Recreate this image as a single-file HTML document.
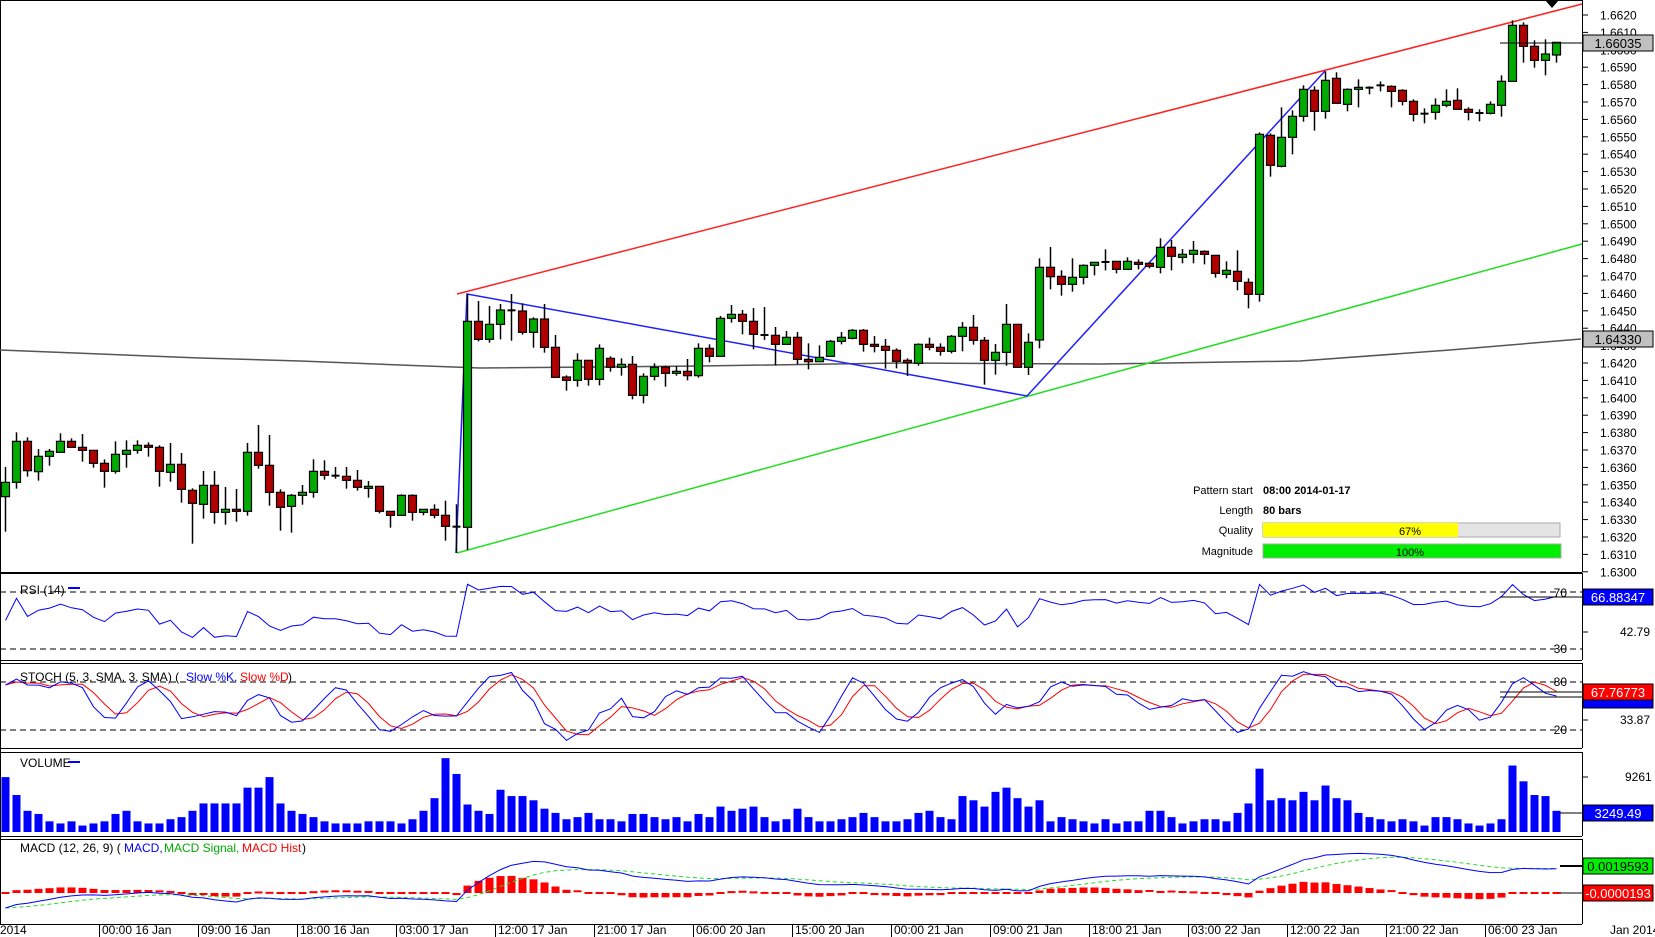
<!DOCTYPE html>
<html><head><meta charset="utf-8">
<style>
html,body{margin:0;padding:0;background:#fff;}
svg{display:block;font-family:"Liberation Sans",sans-serif;}
</style></head>
<body>
<svg id="s" width="1655" height="937" xmlns="http://www.w3.org/2000/svg">
<rect width="1655" height="937" fill="#fff"/>
</svg>
<script>
const NS="http://www.w3.org/2000/svg";
const S=document.getElementById('s');
function el(t,a,txt){const e=document.createElementNS(NS,t);for(const k in a)e.setAttribute(k,a[k]);if(txt!==undefined)e.textContent=txt;S.appendChild(e);return e;}
function line(x1,y1,x2,y2,c,w,d){const a={x1,y1,x2,y2,stroke:c,'stroke-width':w||1};if(d)a['stroke-dasharray']=d;return el('line',a);}
function text(x,y,t,o){o=o||{};return el('text',Object.assign({x,y,'font-size':12,fill:'#000'},o),t);}
function poly(pts,c,w,d){const a={points:pts.map(p=>p[0].toFixed(1)+','+p[1].toFixed(1)).join(' '),fill:'none',stroke:c,'stroke-width':w||1};if(d)a['stroke-dasharray']=d;return el('polyline',a);}

const A=[[637,680,591,785,'g'],[514,637,487,656,'g'],[514,602,502,620,'r'],[559,605,537,632,'g'],[544,559,537,587,'g'],[514,547,490,547,'g'],[514,532,505,532,'r'],[532,541,492,575,'r'],[541,580,541,593,'r'],[580,604,568,653,'r'],[553,604,514,611,'g'],[541,553,511,593,'g'],[526,541,511,551,'g'],[526,532,517,560,'r'],[532,604,526,650,'r'],[583,607,519,635,'g'],[583,658,549,698,'r'],[661,700,655,821,'r'],[646,703,603,746,'g'],[646,727,603,761,'r'],[718,727,651,764,'g'],[718,724,657,755,'r'],[547,724,519,737,'g'],[547,586,465,596,'r'],[586,667,495,707,'r'],[667,712,658,782,'r'],[676,709,672,788,'g'],[667,676,645,704,'g'],[604,667,568,683,'g'],[604,616,571,629,'r'],[617,617,591,626,'d'],[619,631,591,656,'r'],[631,652,600,662,'r'],[649,655,633,683,'g'],[649,724,649,730,'r'],[724,736,724,773,'r'],[676,736,673,736,'g'],[676,727,673,752,'r'],[718,727,718,736,'g'],[718,736,703,745,'r'],[736,769,692,812,'r'],[770,770,703,849,'d'],[154,772,72,840,'g'],[154,208,93,214,'r']];
const B=[[283,328,228,338,'g'],[240,283,222,328,'g'],[241,241,192,332,'d'],[243,307,220,314,'r'],[267,307,262,353,'g'],[267,352,222,368,'r'],[352,442,315,442,'r'],[441,451,436,482,'r'],[391,451,370,470,'g'],[391,448,391,467,'r'],[355,448,343,466,'g'],[385,412,379,425,'r'],[403,412,385,437,'g'],[403,496,378,508,'r'],[439,496,430,520,'g'],[412,439,400,451,'g'],[411,430,407,470,'r'],[424,430,407,437,'g'],[424,437,387,451,'r'],[355,437,340,443,'g'],[355,379,343,397,'r'],[265,379,258,379,'g'],[253,265,225,278,'g'],[253,274,240,313,'r'],[274,313,234,358,'r'],[315,315,231,330,'d'],[316,343,291,406,'r'],[322,343,303,343,'g'],[322,388,306,403,'r'],[388,395,340,418,'r'],[382,395,346,396,'g'],[334,379,330,379,'g'],[322,334,306,343,'g'],[301,325,297,328,'g'],[301,343,297,365,'r'],[343,349,318,367,'r'],[349,361,327,416,'r'],[361,394,355,415,'r'],[391,398,385,438,'r'],[343,400,340,407,'g'],[343,352,323,361,'r'],[352,364,340,377,'r'],[319,364,315,370,'g'],[292,319,276,364,'g'],[292,331,255,344,'r'],[331,391,321,464,'r'],[367,391,342,434,'g'],[283,367,222,407,'g'],[283,412,283,412,'r'],[337,412,310,435,'g']];
const C=[[652,870,625,895,'g'],[652,680,591,718,'r'],[679,703,661,737,'r'],[682,703,625,725,'g'],[646,682,643,703,'g'],[637,646,637,676,'g'],[636,636,598,661,'d'],[634,658,634,670,'r'],[634,658,622,658,'g'],[637,643,628,658,'r'],[640,649,637,655,'r'],[592,652,565,670,'g'],[592,619,570,661,'r'],[613,622,597,640,'g'],[601,613,573,640,'g'],[604,613,601,643,'r'],[616,670,616,683,'r'],[661,673,634,685,'g'],[664,694,601,721,'r'],[697,733,685,775,'r'],[253,733,247,755,'g'],[256,346,250,380,'r'],[262,349,172,352,'g'],[199,262,181,313,'g'],[118,199,106,215,'g'],[121,184,109,242,'r'],[91,184,64,206,'g'],[85,160,67,160,'r'],[118,163,115,184,'g'],[112,118,88,172,'g'],[113,113,109,133,'d'],[106,106,94,124,'d'],[109,124,106,172,'r'],[121,154,118,166,'r'],[154,193,148,214,'r']];
const D=[[341,341,325,370,'d'],[316,337,295,359,'g'],[304,316,268,322,'g'],[301,328,265,328,'r'],[328,337,322,361,'r'],[339,339,328,364,'d'],[313,340,304,343,'g'],[244,316,226,350,'g'],[76,244,61,244,'g'],[76,139,67,188,'r'],[139,181,121,203,'r'],[162,181,118,226,'g'],[127,165,127,188,'g']];
const cand=[];
function add(arr,off){arr.forEach(c=>cand.push([off+c[0]/3,off+c[1]/3,off+c[2]/3,off+c[3]/3,c[4]]));}
add(A,270);add(B,230);add(C,50);add(D,0);
const N=cand.length;
const X=i=>5.5+11*i;
const yp=y=>1.6620-(y-15)/17400;

line(0,0.5,1582,0.5,'#000',1);
line(0.5,0,0.5,925,'#000',1);
line(1582.5,0,1582.5,572,'#000',1);
const panels=[[573,660],[663,748],[752,836],[839,924]];
line(0,572.5,1582,572.5,'#000',1);
panels.forEach(p=>{line(0,p[0]+.5,1582,p[0]+.5,'#000',1);line(0,p[1]+.5,1582,p[1]+.5,'#000',1);line(1582.5,p[0],1582.5,p[1],'#000',1);});

for(let k=0;k<=32;k++){const p=1.6620-k*0.001,y=15+k*17.4;line(1582,y,1588,y,'#000',1);text(1600,y+4.5,p.toFixed(4));}

poly([[0,350],[100,354],[200,358],[300,361],[400,365],[480,368],[700,366],[900,363],[1100,364],[1300,361],[1450,350],[1581,339]],'#555',1.5);
line(457,294,1582,4,'#ff2020',1.5);
line(457,553,1582,244,'#22dd22',1.5);
poly([[456,553],[467,294],[1027,396],[1325,71]],'#2020ff',1.5);

cand.forEach((c,i)=>{const x=X(i);line(x,c[2],x,c[3],'#000',1.5);
 if(c[4]==='d'){line(x-4,c[0],x+4,c[0],'#000',2);}else{el('rect',{x:x-4,y:c[0],width:8,height:Math.max(1,c[1]-c[0]),fill:c[4]==='g'?'#00aa00':'#b00000',stroke:'#000','stroke-width':1.2});}
});

el('polygon',{points:'1545,0 1559,0 1552,8',fill:'#000'});
line(1500,43,1583,43,'#000',1);
el('rect',{x:1583,y:35,width:70,height:16,fill:'#c0c0c0',stroke:'#000'});text(1618,48,'1.66035',{'text-anchor':'middle','font-size':13});
el('rect',{x:1583,y:331,width:70,height:16,fill:'#c0c0c0',stroke:'#000'});text(1618,344,'1.64330',{'text-anchor':'middle','font-size':13});

text(1253,494,'Pattern start',{'text-anchor':'end','font-size':11});text(1263,494,'08:00 2014-01-17',{'font-size':11,'font-weight':'bold'});
text(1253,514,'Length',{'text-anchor':'end','font-size':11});text(1263,514,'80 bars',{'font-size':11,'font-weight':'bold'});
text(1253,534,'Quality',{'text-anchor':'end','font-size':11});
text(1253,555,'Magnitude',{'text-anchor':'end','font-size':11});
el('rect',{x:1263,y:523,width:297,height:14,fill:'#e4e4e4',stroke:'#aaa'});
el('rect',{x:1263,y:523,width:195,height:14,fill:'#ffff00'});
text(1410,535,'67%',{'text-anchor':'middle','font-size':11});
el('rect',{x:1263,y:544,width:298,height:14,fill:'#00ee00',stroke:'#aaa'});
text(1410,556,'100%',{'text-anchor':'middle','font-size':11});

const close=cand.map(c=>yp(c[4]==='g'?c[0]:c[1]));
const hi=cand.map(c=>yp(c[2])),lo=cand.map(c=>yp(c[3]));
let ag=0,al=0;const rsi=[50];
for(let i=1;i<N;i++){const d=close[i]-close[i-1];const g=Math.max(d,0),l=Math.max(-d,0);
 if(i===1){ag=0.0002;al=0.0002;} ag=(ag*13+g)/14;al=(al*13+l)/14;rsi.push(100-100/(1+ag/al));}
const ry=v=>592+(70-v)*1.425;
line(0,592,1582,592,'#000',1,'6,4');line(0,649,1582,649,'#000',1,'6,4');
poly(rsi.map((v,i)=>[X(i),Math.max(575,Math.min(658,ry(v)))]),'#0000ff',1);
const raw=[];for(let i=0;i<N;i++){let h=-1,l=9;for(let j=Math.max(0,i-4);j<=i;j++){h=Math.max(h,hi[j]);l=Math.min(l,lo[j]);}raw.push(h>l?100*(close[i]-l)/(h-l):50);}
const sma=(a,n)=>a.map((v,i)=>{let s=0,c=0;for(let j=Math.max(0,i-n+1);j<=i;j++){s+=a[j];c++;}return s/c;});
const K=sma(raw,3),Dd=sma(K,3);const sy=v=>682+(80-v)*0.8;
line(0,682,1582,682,'#000',1,'6,4');line(0,730,1582,730,'#000',1,'6,4');
poly(Dd.map((v,i)=>[X(i),sy(v)]),'#ff0000',1);
poly(K.map((v,i)=>[X(i),sy(v)]),'#0000ff',1);
const vol=[738,755,770,773,780,782,780,784,782,780,773,770,780,782,782,778,776,770,763,763,763,763,748,748,738,763,770,773,776,780,782,782,782,780,780,780,782,778,770,758,720,735,764,770,773,750,756,756,760,768,772,778,776,772,778,778,780,773,773,776,778,776,780,773,776,766,770,768,766,776,780,778,768,776,780,780,778,776,772,776,780,780,778,772,770,776,778,756,760,766,752,748,758,766,760,780,776,778,780,782,778,782,780,780,770,770,776,782,780,778,778,780,772,763,730,760,758,760,752,760,746,758,760,772,776,778,780,778,780,784,776,776,778,782,784,782,778,727,742,755,756,770];
vol.forEach((v,i)=>{const t=v*1.053;el('rect',{x:X(i)-4,y:t,width:8,height:832-t,fill:'#0000ff'});});
function ema(a,n){const k=2/(n+1);const o=[a[0]];for(let i=1;i<a.length;i++)o.push(a[i]*k+o[i-1]*(1-k));return o;}
const e12=ema(close,12),e26=ema(close,26);
const macd=e12.map((v,i)=>v-e26[i]-0.0012*Math.exp(-i/12));
const sig=ema(macd,9);const hist=macd.map((v,i)=>v-sig[i]);
const my=v=>893-v*12500;
hist.forEach((h,i)=>{const y=my(h);const hh=Math.abs(893-y);el('rect',{x:X(i)-4,y:Math.min(y,893)-(hh<2?1:0),width:8,height:Math.max(2,hh),fill:'#ff0000'});});
poly(sig.map((v,i)=>[X(i),my(v)]),'#22dd22',1,'4,3');
poly(macd.map((v,i)=>[X(i),my(v)]),'#0000ff',1);

text(20,594,'RSI (14)');line(68,588,80,588,'#0000ff',2);
text(20,681,'STOCH (5, 3, SMA, 3, SMA) (');
text(186,681,'Slow %K,',{fill:'#0000ff'});text(240,681,'Slow %D',{fill:'#ff0000'});text(288,681,')');
text(20,767,'VOLUME');line(68,762,80,762,'#0000ff',2);
text(20,852,'MACD (12, 26, 9) (');text(124,852,'MACD,',{fill:'#0000ff'});text(164,852,'MACD Signal,',{fill:'#00aa00'});text(242,852,'MACD Hist',{fill:'#ff0000'});text(302,852,')');

text(1567,597,'70',{'text-anchor':'end'});text(1567,653,'30',{'text-anchor':'end'});
line(1582,632,1588,632,'#000');text(1620,636,'42.79');
line(1500,597,1583,597,'#000');el('rect',{x:1583,y:589,width:70,height:16,fill:'#0000ff',stroke:'#000'});text(1618,602,'66.88347',{'text-anchor':'middle','font-size':13,fill:'#fff'});
text(1567,686,'80',{'text-anchor':'end'});text(1567,734,'20',{'text-anchor':'end'});
line(1582,720,1588,720,'#000');text(1620,724,'33.87');
line(1500,697,1583,697,'#000');line(1500,692,1583,692,'#000');
el('rect',{x:1583,y:692,width:70,height:16,fill:'#0000ff',stroke:'#000'});
el('rect',{x:1583,y:684,width:70,height:16,fill:'#ff0000',stroke:'#000'});text(1618,697,'67.76773',{'text-anchor':'middle','font-size':13,fill:'#fff'});
line(1582,777,1588,777,'#000');text(1625,781,'9261');
line(1560,813,1583,813,'#000');el('rect',{x:1583,y:805,width:70,height:16,fill:'#0000ff',stroke:'#000'});text(1618,818,'3249.49',{'text-anchor':'middle','font-size':13,fill:'#fff'});
line(1560,866,1583,866,'#000',2);el('rect',{x:1583,y:858,width:70,height:16,fill:'#00ee00',stroke:'#000'});text(1618,871,'0.0019593',{'text-anchor':'middle','font-size':13});
line(1560,893,1583,893,'#000');el('rect',{x:1583,y:885,width:70,height:16,fill:'#ff0000',stroke:'#000'});text(1618,898,'-0.0000193',{'text-anchor':'middle','font-size':13,fill:'#fff'});

text(0,934,'2014');
const tl=['00:00 16 Jan','09:00 16 Jan','18:00 16 Jan','03:00 17 Jan','12:00 17 Jan','21:00 17 Jan','06:00 20 Jan','15:00 20 Jan','00:00 21 Jan','09:00 21 Jan','18:00 21 Jan','03:00 22 Jan','12:00 22 Jan','21:00 22 Jan','06:00 23 Jan'];
tl.forEach((t,k)=>{const x=100+99*k;line(x-0.5,924,x-0.5,937,'#000');text(x+2,934,t);});
text(1610,934,'Jan 2014');
</script>
</body></html>
